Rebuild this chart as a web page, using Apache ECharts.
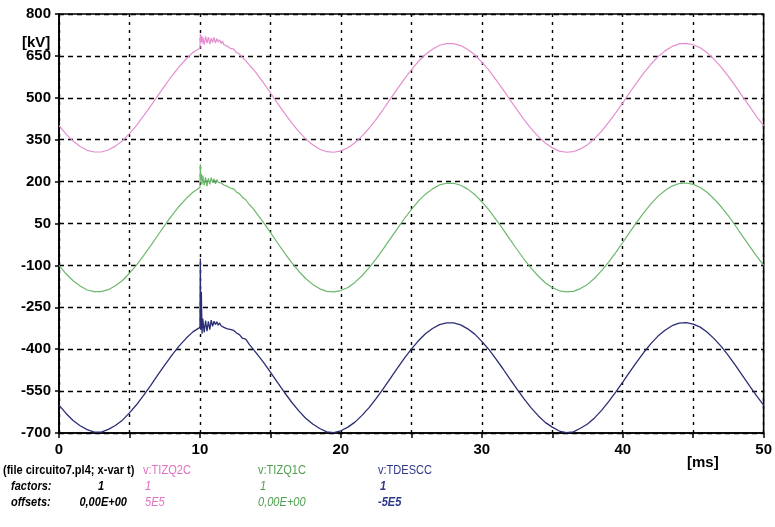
<!DOCTYPE html>
<html>
<head>
<meta charset="utf-8">
<script src="https://cdn.jsdelivr.net/npm/echarts@6/dist/echarts.min.js"></script>
<style>
html,body{margin:0;padding:0;background:#fff;}
#chart{width:775px;height:527px;}
</style>
</head>
<body>
<div id="chart"></div>
<script>
// time axis (ms)
var timeMs = [0,0.5,1,1.5,2,2.5,3,3.5,4,4.5,5,5.5,6,6.5,7,7.5,8,8.5,9,9.5,
  10,10.03,10.06,10.1,10.15,10.2,10.3,10.4,10.5,10.6,10.7,10.8,10.9,11,11.1,11.2,11.3,11.4,11.5,11.6,11.7,11.8,11.9,12,12.2,12.4,12.6,12.8,13,13.25,13.5,13.75,14,
  14.5,15,15.5,16,16.5,17,17.5,18,18.5,19,19.5,20,20.5,21,21.5,22,22.5,23,23.5,24,24.5,25,25.5,26,26.5,27,27.5,28,28.5,29,29.5,30,
  30.5,31,31.5,32,32.5,33,33.5,34,34.5,35,35.5,36,36.5,37,37.5,38,38.5,39,39.5,40,40.5,41,41.5,42,42.5,43,43.5,44,44.5,45,45.5,46,46.5,47,47.5,48,48.5,49,49.5,50];

// v:TIZQ2C (offset 5E5) [kV]
var tizq2c = [400,370,345,326,312,306,306,313,327,346,372,401,435,470,507,543,578,610,638,662,
  677,728,700,722,695,718,690,720,696,717,692,714,698,716,696,712,700,708,694,703,690,696,686,688,676,674,662,657,645,633,618,604,588,
  554,518,481,445,411,380,353,332,316,307,305,310,321,339,363,391,423,458,495,531,567,600,630,655,674,688,694,694,687,673,654,628,
  599,565,530,493,457,422,390,362,338,321,309,305,307,317,332,354,381,412,446,482,519,555,589,620,647,668,684,693,695,690,679,661,637,609,577,542,505,469,433,400];

// v:TIZQ1C (offset 0) [kV]
var tizq1c = [-100,-130,-155,-174,-188,-194,-194,-187,-173,-154,-128,-99,-65,-30,7,43,78,110,138,162,
  179,262,205,228,190,222,186,215,183,212,190,214,196,210,192,207,197,204,195,199,188,192,184,186,176,174,162,157,145,135,118,105,88,
  54,18,-19,-55,-89,-120,-147,-168,-184,-193,-195,-190,-179,-161,-137,-109,-77,-42,-5,31,67,100,130,155,174,188,194,194,187,173,154,128,
  99,65,30,-7,-43,-78,-110,-138,-162,-179,-191,-195,-193,-183,-168,-146,-119,-88,-54,-18,19,55,89,120,147,168,184,193,195,190,179,161,137,109,77,42,5,-31,-67,-100];

// v:TDESCC (offset -5E5) [kV]
var tdescc = [-600,-630,-655,-674,-688,-697,-697,-687,-673,-654,-628,-599,-565,-530,-493,-457,-422,-390,-362,-338,
  -322,-75,-330,-195,-345,-290,-340,-298,-335,-300,-330,-296,-318,-300,-312,-302,-314,-306,-316,-310,-322,-315,-326,-322,-330,-333,-342,-348,-360,-364,-383,-398,-414,
  -446,-482,-519,-555,-589,-620,-647,-668,-684,-696,-699,-692,-679,-661,-637,-609,-577,-542,-505,-469,-433,-400,-370,-345,-326,-312,-306,-306,-313,-327,-346,-372,
  -401,-435,-470,-507,-543,-578,-610,-638,-662,-679,-693,-699,-696,-683,-668,-646,-619,-588,-554,-518,-481,-445,-411,-380,-353,-332,-316,-307,-305,-310,-321,-339,-363,-391,-423,-458,-495,-531,-567,-600];

var yTicks = [-700,-550,-400,-250,-100,50,200,350,500,650,800];
var xTickLabels = [0,10,20,30,40,50];

function pairs(vals){ return timeMs.map(function(t,i){ return [t, vals[i]]; }); }

var FONT = 'Liberation Sans, Arial, sans-serif';
var chart = echarts.init(document.getElementById('chart'), null, {renderer:'canvas'});

function txt(s, x, y, color, italic, weight, align){
  return {type:'text', x:x, y:y, scaleX:0.85, scaleY:1.05,
    style:{text:s, fill:color, fontFamily:FONT, fontSize:13,
    fontWeight: weight || 'bold', fontStyle: italic ? 'italic' : 'normal',
    textAlign: align || 'left', align: align || 'left',
    textVerticalAlign:'middle', verticalAlign:'middle'}};
}
var PINK_T = '#e070c0', GREEN_T = '#4f9f4f', BLUE_T = '#2f3888';
var r1 = 470, r2 = 486, r3 = 502;

chart.setOption({
  animation:false,
  backgroundColor:'#ffffff',
  grid:{left:59, right:11, top:14, bottom:94, show:true, borderColor:'#000', borderWidth:1.6, backgroundColor:'transparent'},
  xAxis:{type:'value', min:0, max:50, interval:5,
    axisLine:{show:true, onZero:false, lineStyle:{color:'#000', width:1.6}},
    axisTick:{show:true, length:5, inside:false, lineStyle:{color:'#000', width:1.5}},
    axisLabel:{margin:9, color:'#000', fontFamily:FONT, fontSize:15, fontWeight:'bold',
      formatter:function(v){ return xTickLabels.indexOf(v) >= 0 ? String(v) : ''; }},
    splitLine:{show:true, lineStyle:{color:'#000', width:1.4, type:[3,5]}}
  },
  yAxis:{type:'value', min:-700, max:800,
    axisLine:{show:true, onZero:false, lineStyle:{color:'#000', width:1.6}},
    axisTick:{show:true, length:4, inside:false, customValues:yTicks, lineStyle:{color:'#000', width:1.5}},
    axisLabel:{margin:8, color:'#000', fontFamily:FONT, fontSize:15, fontWeight:'bold', customValues:yTicks},
    splitLine:{show:true, lineStyle:{color:'#000', width:1.4, type:[5,4]}}
  },
  series:[
    {type:'line', name:'v:TIZQ2C', data:pairs(tizq2c), showSymbol:false, lineStyle:{color:'#e58ed0', width:1.2}, itemStyle:{color:'#e58ed0'}},
    {type:'line', name:'v:TIZQ1C', data:pairs(tizq1c), showSymbol:false, lineStyle:{color:'#6cb86c', width:1.2}, itemStyle:{color:'#6cb86c'}},
    {type:'line', name:'v:TDESCC', data:pairs(tdescc), showSymbol:false, lineStyle:{color:'#2a2d74', width:1.3}, itemStyle:{color:'#2a2d74'}}
  ],
  graphic:[
    {type:'text', x:22, y:43, style:{text:'[kV]', fill:'#000', fontFamily:FONT, fontSize:15, fontWeight:'bold', textVerticalAlign:'middle', verticalAlign:'middle'}},
    {type:'text', x:687, y:463, style:{text:'[ms]', fill:'#000', fontFamily:FONT, fontSize:15, fontWeight:'bold', textVerticalAlign:'middle', verticalAlign:'middle'}},
    txt('(file circuito7.pl4; x-var t)', 3, r1, '#000', false),
    txt('v:TIZQ2C', 143, r1, PINK_T, false, 'normal'),
    txt('v:TIZQ1C', 258, r1, GREEN_T, false, 'normal'),
    txt('v:TDESCC', 378, r1, BLUE_T, false, 'normal'),
    txt('factors:', 11, r2, '#000', true),
    txt('1', 98, r2, '#000', true),
    txt('1', 145, r2, PINK_T, true, 'normal'),
    txt('1', 260, r2, GREEN_T, true, 'normal'),
    txt('1', 380, r2, BLUE_T, true),
    txt('offsets:', 11, r3, '#000', true),
    txt('0,00E+00', 127, r3, '#000', true, 'bold', 'right'),
    txt('5E5', 145, r3, PINK_T, true, 'normal'),
    txt('0,00E+00', 258, r3, GREEN_T, true, 'normal'),
    txt('-5E5', 378, r3, BLUE_T, true)
  ]
});
</script>
</body>
</html>
